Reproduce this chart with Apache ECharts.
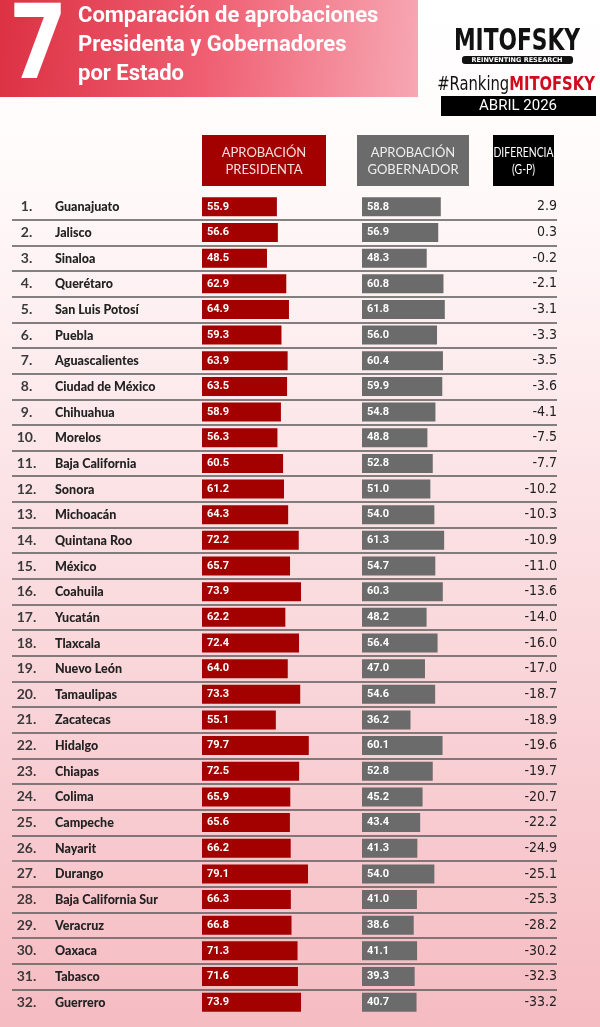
<!DOCTYPE html>
<html>
<head>
<meta charset="utf-8">
<script src="https://cdn.jsdelivr.net/npm/echarts@6/dist/echarts.min.js"></script>
<style>
html,body{margin:0;padding:0;}
#main{width:600px;height:1027px;}
</style>
</head>
<body>
<div id="main"></div>
<script>
var estados = ['Guanajuato','Jalisco','Sinaloa','Querétaro','San Luis Potosí','Puebla','Aguascalientes','Ciudad de México','Chihuahua','Morelos','Baja California','Sonora','Michoacán','Quintana Roo','México','Coahuila','Yucatán','Tlaxcala','Nuevo León','Tamaulipas','Zacatecas','Hidalgo','Chiapas','Colima','Campeche','Nayarit','Durango','Baja California Sur','Veracruz','Oaxaca','Tabasco','Guerrero'];
var presidenta = [55.9,56.6,48.5,62.9,64.9,59.3,63.9,63.5,58.9,56.3,60.5,61.2,64.3,72.2,65.7,73.9,62.2,72.4,64.0,73.3,55.1,79.7,72.5,65.9,65.6,66.2,79.1,66.3,66.8,71.3,71.6,73.9];
var gobernador = [58.8,56.9,48.3,60.8,61.8,56.0,60.4,59.9,54.8,48.8,52.8,51.0,54.0,61.3,54.7,60.3,48.2,56.4,47.0,54.6,36.2,60.1,52.8,45.2,43.4,41.3,54.0,41.0,38.6,41.1,39.3,40.7];
var diferencia = [2.9,0.3,-0.2,-2.1,-3.1,-3.3,-3.5,-3.6,-4.1,-7.5,-7.7,-10.2,-10.3,-10.9,-11.0,-13.6,-14.0,-16.0,-17.0,-18.7,-18.9,-19.6,-19.7,-20.7,-22.2,-24.9,-25.1,-25.3,-28.2,-30.2,-32.3,-33.2];

var myChart = echarts.init(document.getElementById('main'));

var gridTop = 194, gridH = 821;
var narrow = '"DejaVu Sans Condensed", Roboto, sans-serif';
var barLabel = {
    show: true,
    position: 'insideLeft',
    distance: 5,
    color: '#fff',
    fontFamily: 'Roboto',
    fontWeight: 'bold',
    fontSize: 11,
    formatter: function (p) { return p.value.toFixed(1); }
};

var option = {
    backgroundColor: new echarts.graphic.LinearGradient(0, 0, 0, 1, [
        {offset: 0, color: '#ffffff'},
        {offset: 0.17, color: '#fffafa'},
        {offset: 0.5, color: '#fbe1e4'},
        {offset: 1, color: '#f5bcc2'}
    ]),
    animation: false,
    grid: [
        {left: 202, width: 134, top: gridTop, height: gridH},
        {left: 362, width: 134, top: gridTop, height: gridH},
        {left: 12, right: 43, top: gridTop, height: gridH}
    ],
    xAxis: [
        {gridIndex: 0, type: 'value', min: 0, max: 100, show: false},
        {gridIndex: 1, type: 'value', min: 0, max: 100, show: false},
        {gridIndex: 2, type: 'value', min: 0, max: 100, show: false}
    ],
    yAxis: [
        {gridIndex: 0, type: 'category', data: estados, inverse: true, show: false},
        {gridIndex: 1, type: 'category', data: estados, inverse: true, show: false},
        {
            gridIndex: 2, type: 'category', data: estados, inverse: true,
            position: 'left',
            axisLine: {show: false}, axisTick: {show: false},
            splitLine: {
                show: true,
                showMinLine: false,
                showMaxLine: false,
                lineStyle: {color: '#5a5a5a', width: 1.5}
            },
            axisLabel: {
                inside: true, margin: 0, align: 'left',
                formatter: function (v, i) { return '{n|' + (i + 1) + '.}{s|' + v + '}'; },
                rich: {
                    n: {width: 29, align: 'right', fontFamily: 'Lato', fontWeight: 'bold', fontSize: 14, color: '#3a3a3a'},
                    s: {padding: [1, 0, 0, 14], fontFamily: 'Lato', fontWeight: 900, fontSize: 12.5, color: '#222'}
                }
            }
        },
        {
            gridIndex: 2, type: 'category', data: estados, inverse: true,
            position: 'right',
            axisLine: {show: false}, axisTick: {show: false}, splitLine: {show: false},
            axisLabel: {
                inside: true, margin: 0, align: 'right',
                fontFamily: narrow, fontSize: 14, color: '#222',
                formatter: function (v, i) { return diferencia[i].toFixed(1); }
            }
        }
    ],
    series: [
        {
            name: 'Aprobación Presidenta', type: 'bar', xAxisIndex: 0, yAxisIndex: 0,
            data: presidenta, barWidth: 19, itemStyle: {color: '#a30000'}, label: barLabel
        },
        {
            name: 'Aprobación Gobernador', type: 'bar', xAxisIndex: 1, yAxisIndex: 1,
            data: gobernador, barWidth: 19, itemStyle: {color: '#6b6b6b'}, label: barLabel
        }
    ],
    graphic: [
        // banner
        {type: 'rect', x: 0, y: 0, shape: {width: 418, height: 97},
            style: {fill: new echarts.graphic.LinearGradient(0, 0, 1, 0.3, [
                {offset: 0, color: '#dc3143'}, {offset: 0.5, color: '#ef5f72'}, {offset: 1, color: '#f7a6b2'}])}},
        {type: 'text', x: 38, y: 51, scaleX: 0.9, style: {text: '7', fill: '#fff', font: 'bold 104px ' + narrow, align: 'center', verticalAlign: 'middle'}},
        {type: 'text', x: 78, y: 2, style: {text: 'Comparación de aprobaciones\nPresidenta y Gobernadores\npor Estado',
            fill: '#fff', font: 'bold 22px Roboto', lineHeight: 29}},
        // logo
        {type: 'text', x: 517, y: 42, scaleX: 0.78, style: {text: 'MITOFSKY', fill: '#111', font: 'bold 31px ' + narrow, align: 'center', verticalAlign: 'middle'}},
        {type: 'rect', x: 462, y: 56, shape: {width: 111, height: 8, r: 3}, style: {fill: '#111'}},
        {type: 'text', x: 517, y: 60, style: {text: 'REINVENTING RESEARCH', fill: '#fff', font: 'bold 6.5px "DejaVu Sans"', align: 'center', verticalAlign: 'middle'}},
        {type: 'text', x: 516, y: 85, scaleX: 0.82, style: {rich: {
            a: {fill: '#111', font: '20px ' + narrow},
            b: {fill: '#d10a1e', font: 'bold 20px ' + narrow}
        }, text: '{a|#Ranking}{b|MITOFSKY}', align: 'center', verticalAlign: 'middle'}},
        {type: 'rect', x: 441, y: 96, shape: {width: 155, height: 20}, style: {fill: '#000'}},
        {type: 'text', x: 518, y: 106, style: {text: 'ABRIL 2026', fill: '#fff', font: '15px Roboto', align: 'center', verticalAlign: 'middle'}},
        // column headers
        {type: 'rect', x: 202, y: 135, shape: {width: 124, height: 51}, style: {fill: '#a30000'}},
        {type: 'text', x: 264, y: 161, style: {text: 'APROBACIÓN\nPRESIDENTA', fill: '#f6dede', font: '13px Lato', align: 'center', verticalAlign: 'middle', lineHeight: 17}},
        {type: 'rect', x: 357, y: 135, shape: {width: 112, height: 51}, style: {fill: '#6b6b6b'}},
        {type: 'text', x: 413, y: 161, style: {text: 'APROBACIÓN\nGOBERNADOR', fill: '#eeeeee', font: '13px Lato', align: 'center', verticalAlign: 'middle', lineHeight: 17}},
        {type: 'rect', x: 493, y: 135, shape: {width: 61, height: 51}, style: {fill: '#000'}},
        {type: 'text', x: 523.5, y: 161, scaleX: 0.8, style: {text: 'DIFERENCIA\n(G-P)', fill: '#fff', font: '13px Lato', align: 'center', verticalAlign: 'middle', lineHeight: 17}}
    ]
};
myChart.setOption(option);
</script>
</body>
</html>
